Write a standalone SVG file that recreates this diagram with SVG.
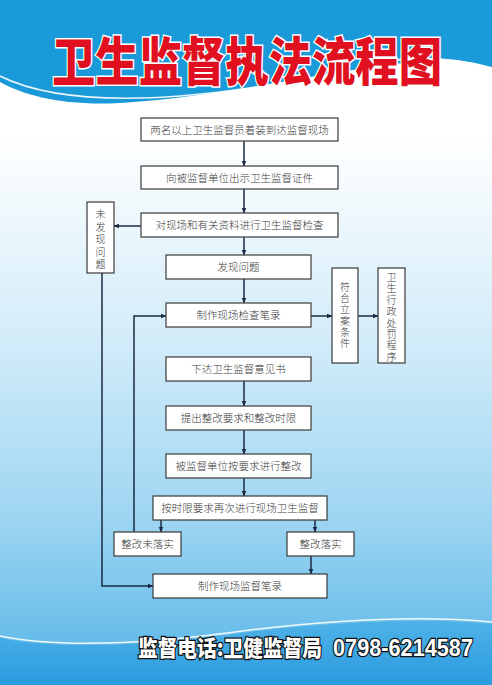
<svg xmlns="http://www.w3.org/2000/svg" width="492" height="685" viewBox="0 0 492 685">
<defs>
<linearGradient id="bg" x1="0" y1="0" x2="0" y2="1">
<stop offset="0" stop-color="#ffffff"/>
<stop offset="0.2" stop-color="#ffffff"/>
<stop offset="0.5" stop-color="#d2ecf9"/>
<stop offset="0.75" stop-color="#9fd6f2"/>
<stop offset="0.92" stop-color="#6cbfea"/>
<stop offset="1" stop-color="#4fb1e6"/>
</linearGradient>
<linearGradient id="bot" x1="0" y1="0" x2="0" y2="1">
<stop offset="0" stop-color="#4fb2e7"/>
<stop offset="1" stop-color="#2a9bdf"/>
</linearGradient>
<marker id="ah" viewBox="0 0 10 10" refX="9" refY="5" markerWidth="6" markerHeight="6" orient="auto" markerUnits="userSpaceOnUse">
<path d="M0,1 L10,5 L0,9 Z" fill="#1c2a44"/>
</marker>
<style>
.box{fill:#ffffff;stroke:#3a3a3a;stroke-width:1.2}
.t{font-family:"Noto Sans CJK SC","Noto Sans CJK JP",sans-serif;font-size:10.5px;font-weight:300;fill:#3a3a3a;text-anchor:middle}
.v{font-size:10px}
.ca{fill:none;stroke:#1c2a44;stroke-width:1.5;marker-end:url(#ah)}
</style>
</defs>
<rect x="0" y="0" width="492" height="685" fill="url(#bg)"/>
<!-- header -->
<path d="M0,0 H492 V68 C470,62 455,58 435,60 C330,70 230,96 120,103 C65,106 25,96 0,82 Z" fill="#1b9ad9"/>
<path d="M0,76 C40,96 100,102 180,96 C260,90 330,72 400,64" fill="none" stroke="#ffffff" stroke-width="1.6" opacity="0.9"/>
<path d="M380,62 C420,56 455,58 492,68" fill="none" stroke="#ffffff" stroke-width="2" opacity="0.9"/>
<!-- bottom band -->
<path d="M0,638 C60,650 150,646 250,632 C350,620 430,618 492,624 V685 H0 Z" fill="url(#bot)"/>
<path d="M0,636 C60,648 150,644 250,630 C350,618 430,616 492,622" fill="none" stroke="#ffffff" stroke-width="1.6" opacity="0.9"/>
<!-- title -->
<text x="52" y="81" textLength="390" lengthAdjust="spacingAndGlyphs" font-family="'Noto Sans CJK SC','Noto Sans CJK JP',sans-serif" font-size="52" font-weight="900" fill="#e01020" stroke="#ffffff" stroke-width="3" paint-order="stroke">卫生监督执法流程图</text>
<!-- footer -->
<text x="138" y="656" textLength="184" lengthAdjust="spacingAndGlyphs" font-family="'Noto Sans CJK SC','Noto Sans CJK JP',sans-serif" font-size="22" font-weight="900" fill="#ffffff" stroke="#111111" stroke-width="2.5" paint-order="stroke">监督电话:卫健监督局</text>
<text x="333" y="656" textLength="140" lengthAdjust="spacingAndGlyphs" font-family="'Liberation Sans',Arial,sans-serif" font-size="24" font-weight="bold" fill="#ffffff" stroke="#111111" stroke-width="2.5" paint-order="stroke">0798-6214587</text>
<!-- connectors -->
<g id="connectors">
<line class="ca" x1="244" y1="141" x2="244" y2="166"/>
<line class="ca" x1="244" y1="189" x2="244" y2="213"/>
<line class="ca" x1="141" y1="226" x2="114" y2="226"/>
<line class="ca" x1="244" y1="237" x2="244" y2="255"/>
<line class="ca" x1="244" y1="279" x2="244" y2="303"/>
<line class="ca" x1="311" y1="316" x2="332" y2="316"/>
<line class="ca" x1="358" y1="316" x2="378" y2="316"/>
<line class="ca" x1="244" y1="381" x2="244" y2="406"/>
<line class="ca" x1="244" y1="430" x2="244" y2="454"/>
<line class="ca" x1="244" y1="478" x2="244" y2="496"/>
<line class="ca" x1="161" y1="520" x2="161" y2="532"/>
<line class="ca" x1="315" y1="520" x2="315" y2="532"/>
<line class="ca" x1="311" y1="556" x2="311" y2="574"/>
<polyline class="ca" points="134,532 134,316 166,316"/>
<polyline class="ca" points="102,273 102,586 153,586"/>
</g>
<!-- nodes -->
<g id="n1"><rect class="box" x="141" y="118" width="197" height="23"/><text class="t" x="239.5" y="133.5">两名以上卫生监督员着装到达监督现场</text></g>
<g id="n2"><rect class="box" x="141" y="166" width="197" height="23"/><text class="t" x="239.5" y="181.5">向被监督单位出示卫生监督证件</text></g>
<g id="n3"><rect class="box" x="141" y="213" width="197" height="24"/><text class="t" x="239.5" y="229">对现场和有关资料进行卫生监督检查</text></g>
<g id="n_none"><rect class="box" x="87" y="202" width="27" height="71"/><text class="t v" x="100.5"><tspan x="100.5" y="218">未</tspan><tspan x="100.5" y="230.5">发</tspan><tspan x="100.5" y="243">现</tspan><tspan x="100.5" y="255.5">问</tspan><tspan x="100.5" y="268">题</tspan></text></g>
<g id="n4"><rect class="box" x="166" y="255" width="145" height="24"/><text class="t" x="238.5" y="271">发现问题</text></g>
<g id="n5"><rect class="box" x="166" y="303" width="145" height="24"/><text class="t" x="238.5" y="319">制作现场检查笔录</text></g>
<g id="n_case"><rect class="box" x="332" y="268" width="26" height="95"/><text class="t v" x="345"><tspan x="345" y="291">符</tspan><tspan x="345" y="302.2">合</tspan><tspan x="345" y="313.4">立</tspan><tspan x="345" y="324.6">案</tspan><tspan x="345" y="335.8">条</tspan><tspan x="345" y="347">件</tspan></text></g>
<g id="n_pen"><rect class="box" x="378" y="268" width="27" height="95"/><text class="t v" x="391.5"><tspan x="391.5" y="281">卫</tspan><tspan x="391.5" y="292.4">生</tspan><tspan x="391.5" y="303.8">行</tspan><tspan x="391.5" y="315.2">政</tspan><tspan x="391.5" y="326.6">处</tspan><tspan x="391.5" y="338">罚</tspan><tspan x="391.5" y="349.4">程</tspan><tspan x="391.5" y="360.8">序</tspan></text></g>
<g id="n6"><rect class="box" x="166" y="357" width="145" height="24"/><text class="t" x="238.5" y="373">下达卫生监督意见书</text></g>
<g id="n7"><rect class="box" x="166" y="406" width="145" height="24"/><text class="t" x="238.5" y="422">提出整改要求和整改时限</text></g>
<g id="n8"><rect class="box" x="166" y="454" width="145" height="24"/><text class="t" x="238.5" y="470">被监督单位按要求进行整改</text></g>
<g id="n9"><rect class="box" x="153" y="496" width="174" height="24"/><text class="t" x="240" y="512">按时限要求再次进行现场卫生监督</text></g>
<g id="n10"><rect class="box" x="114" y="532" width="67" height="24"/><text class="t" x="147.5" y="548">整改未落实</text></g>
<g id="n11"><rect class="box" x="287" y="532" width="67" height="24"/><text class="t" x="320.5" y="548">整改落实</text></g>
<g id="n12"><rect class="box" x="153" y="574" width="174" height="24"/><text class="t" x="240" y="590">制作现场监督笔录</text></g>
</svg>
